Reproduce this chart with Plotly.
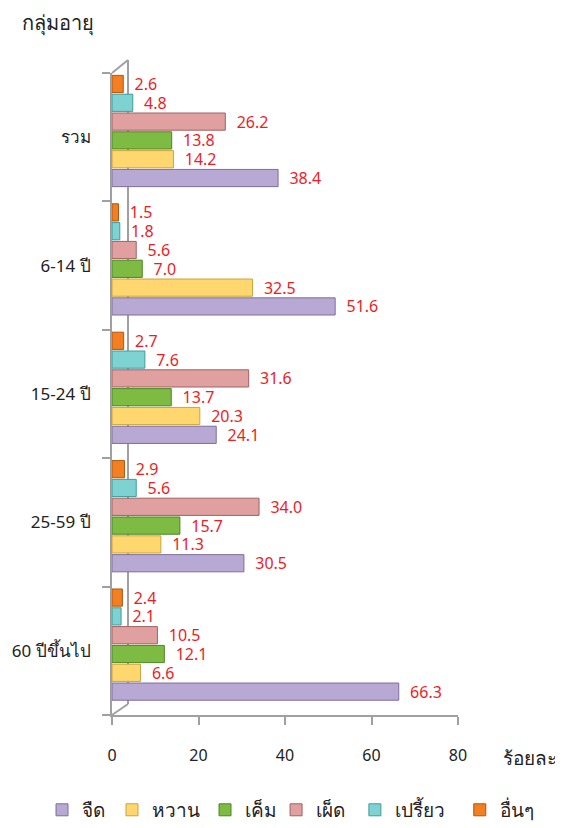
import plotly.graph_objects as go

# age groups, top to bottom as in the chart
groups = ["รวม", "6-14 ปี", "15-24 ปี", "25-59 ปี", "60 ปีขึ้นไป"]

# percent per taste
jued = [38.4, 51.6, 24.1, 30.5, 66.3]
wan = [14.2, 32.5, 20.3, 11.3, 6.6]
kem = [13.8, 7.0, 13.7, 15.7, 12.1]
phed = [26.2, 5.6, 31.6, 34.0, 10.5]
priao = [4.8, 1.8, 7.6, 5.6, 2.1]
uen = [2.6, 1.5, 2.7, 2.9, 2.4]

x_ticks = [0, 20, 40, 60, 80]

series = [
    ("จืด", jued, "#B7A9D3", "#7E6E9C"),
    ("หวาน", wan, "#FFD76E", "#C9A33E"),
    ("เค็ม", kem, "#7DBB42", "#4E8526"),
    ("เผ็ด", phed, "#E0A0A0", "#A06262"),
    ("เปรี้ยว", priao, "#7FD2D2", "#3F9C9C"),
    ("อื่นๆ", uen, "#F27F21", "#B2560E"),
]
# one legend box per entry so the row fits like the original
legend_x = [0.0613, 0.1874, 0.355, 0.483, 0.625, 0.814]

font = "Tahoma, 'Noto Sans', sans-serif"
axis_grey = "#A0A0A0"

# the page body adds an 8px margin, so the figure is 8px smaller than the window
fig = go.Figure()
for i, (name, vals, col, edge) in enumerate(series):
    fig.add_trace(go.Bar(
        y=groups, x=vals, name=name, orientation="h",
        width=0.134, offset=-0.385 + i * 0.1465,
        marker=dict(color=col, line=dict(color=edge, width=1)),
        text=[f"{v:.1f}" for v in vals], textposition="outside",
        texttemplate="\u00a0\u00a0%{text}",
        textfont=dict(color="#EE1C25", size=16, family=font),
        constraintext="none", cliponaxis=False,
        legend="legend" if i == 0 else f"legend{i + 1}",
    ))

legends = {}
for i, lx in enumerate(legend_x):
    key = "legend" if i == 0 else f"legend{i + 1}"
    legends[key] = dict(orientation="h", xref="container", yref="container",
                        x=lx, y=0.022, xanchor="left", yanchor="middle",
                        font=dict(size=19), itemwidth=30, bgcolor="rgba(0,0,0,0)")

# 3d frame: back wall and corner diagonals
top_d, bot_d = 13 / 642, 11 / 642
frame = [
    dict(type="line", xref="paper", yref="paper", xsizemode="pixel", xanchor=0,
         x0=16, x1=16, y0=bot_d, y1=1 + top_d, layer="below",
         line=dict(color=axis_grey, width=2)),
    dict(type="line", xref="paper", yref="paper", xsizemode="pixel", xanchor=0,
         x0=0, x1=16, y0=1, y1=1 + top_d, line=dict(color=axis_grey, width=2)),
    dict(type="line", xref="paper", yref="paper", xsizemode="pixel", xanchor=0,
         x0=0, x1=16, y0=0, y1=bot_d, layer="below",
         line=dict(color=axis_grey, width=2)),
]

fig.update_layout(
    width=555, height=820,
    barmode="group",
    plot_bgcolor="white", paper_bgcolor="white",
    margin=dict(l=104, r=105, t=65, b=113, autoexpand=False),
    font=dict(family=font, size=16, color="#222"),
    showlegend=True,
    xaxis=dict(range=[0, 80], tickvals=x_ticks, showgrid=False, zeroline=False,
               showline=True, linecolor=axis_grey, linewidth=2,
               ticks="outside", ticklen=8, tickcolor=axis_grey, tickwidth=2,
               ticklabelstandoff=17, tickfont=dict(size=16), automargin=False),
    yaxis=dict(categoryorder="array", categoryarray=groups[::-1],
               range=[-0.5, 4.5],
               showgrid=False, showline=True, linecolor=axis_grey, linewidth=2,
               ticks="outside", ticklen=8, tickcolor=axis_grey, tickwidth=2,
               tickson="boundaries", ticklabelstandoff=16, tickfont=dict(size=17),
               automargin=False),
    shapes=frame,
    annotations=[
        dict(text="กลุ่มอายุ", xref="paper", yref="paper", x=-0.266, y=1.079,
             xanchor="left", yanchor="middle", showarrow=False, font=dict(size=20)),
        dict(text="ร้อยละ", xref="paper", yref="paper", x=1.292, y=-0.067,
             xanchor="right", yanchor="middle", showarrow=False, font=dict(size=19)),
    ],
    **legends,
)

fig.write_html("out.html")
